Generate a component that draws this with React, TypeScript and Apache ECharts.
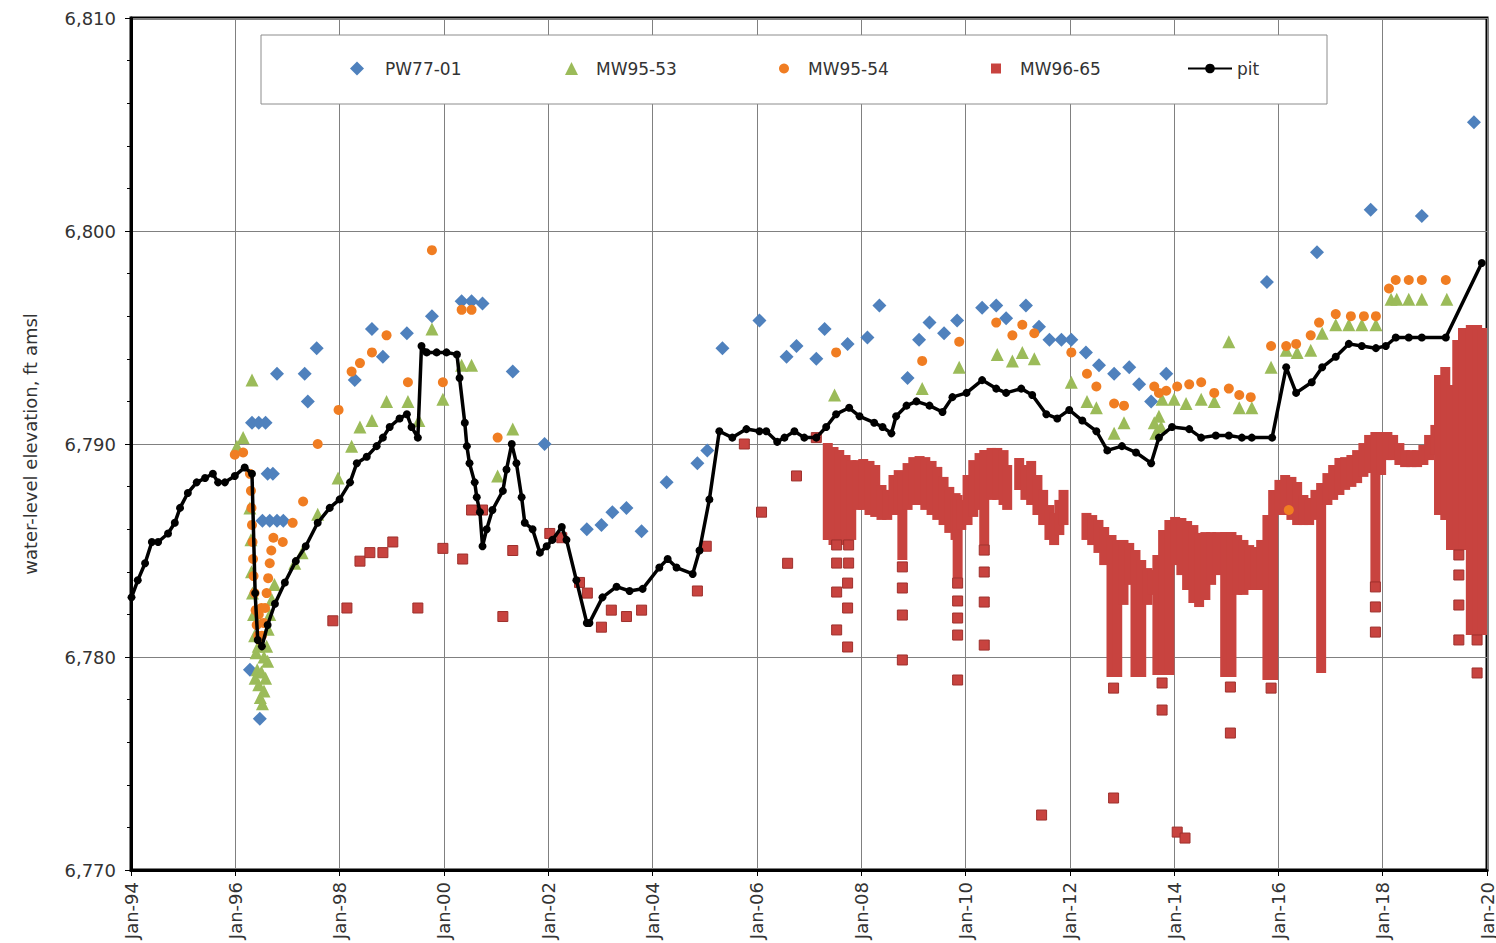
import React, { useEffect, useRef } from 'react';
import * as echarts from 'echarts';

// ---- axis ticks ----
const xTickYears = [1994, 1996, 1998, 2000, 2002, 2004, 2006, 2008, 2010, 2012, 2014, 2016, 2018, 2020];
const xTickLabels = ['Jan-94', 'Jan-96', 'Jan-98', 'Jan-00', 'Jan-02', 'Jan-04', 'Jan-06', 'Jan-08', 'Jan-10', 'Jan-12', 'Jan-14', 'Jan-16', 'Jan-18', 'Jan-20'];
const yTickValues = [6770, 6780, 6790, 6800, 6810];
const yTickLabels = ['6,770', '6,780', '6,790', '6,800', '6,810'];

// ---- series: [decimal year, water-level elevation ft amsl] ----
const pit = [
  [1994.01, 6782.8], [1994.13, 6783.6], [1994.27, 6784.4], [1994.40, 6785.4], [1994.52, 6785.4], [1994.71, 6785.8],
  [1994.84, 6786.3], [1994.94, 6787.0], [1995.09, 6787.7], [1995.26, 6788.2], [1995.42, 6788.4], [1995.57, 6788.6],
  [1995.67, 6788.2], [1995.80, 6788.2], [1995.99, 6788.5], [1996.18, 6788.9], [1996.32, 6788.6], [1996.38, 6783.0],
  [1996.43, 6780.8], [1996.51, 6780.5], [1996.62, 6781.5], [1996.76, 6782.5], [1996.95, 6783.5], [1997.16, 6784.5],
  [1997.35, 6785.2], [1997.58, 6786.3], [1997.81, 6787.0], [1998.00, 6787.4], [1998.20, 6788.2], [1998.33, 6789.1],
  [1998.52, 6789.4], [1998.71, 6789.9], [1998.83, 6790.3], [1998.96, 6790.8], [1999.15, 6791.2], [1999.29, 6791.4],
  [1999.38, 6790.8], [1999.50, 6790.3], [1999.57, 6794.6], [1999.67, 6794.3], [1999.86, 6794.3], [2000.05, 6794.3],
  [2000.25, 6794.2], [2000.30, 6793.1], [2000.40, 6791.0], [2000.44, 6789.9], [2000.49, 6789.1], [2000.59, 6788.2],
  [2000.63, 6787.5], [2000.69, 6786.8], [2000.74, 6785.2], [2000.82, 6786.0], [2000.93, 6786.9], [2001.13, 6787.8],
  [2001.20, 6788.8], [2001.30, 6790.0], [2001.39, 6789.1], [2001.49, 6787.5], [2001.55, 6786.3], [2001.70, 6786.0],
  [2001.84, 6784.9], [2001.97, 6785.2], [2002.08, 6785.5], [2002.26, 6786.1], [2002.35, 6785.5], [2002.54, 6783.6],
  [2002.74, 6781.6], [2002.79, 6781.6], [2003.04, 6782.8], [2003.31, 6783.3], [2003.56, 6783.1], [2003.81, 6783.2],
  [2004.13, 6784.2], [2004.29, 6784.6], [2004.46, 6784.2], [2004.77, 6783.9], [2004.90, 6785.0], [2005.09, 6787.4],
  [2005.28, 6790.6], [2005.53, 6790.3], [2005.80, 6790.7], [2006.05, 6790.6], [2006.18, 6790.6], [2006.39, 6790.1],
  [2006.53, 6790.3], [2006.72, 6790.6], [2006.91, 6790.3], [2007.14, 6790.3], [2007.33, 6790.8], [2007.52, 6791.4],
  [2007.77, 6791.7], [2007.97, 6791.3], [2008.25, 6791.0], [2008.41, 6790.8], [2008.58, 6790.5], [2008.67, 6791.3],
  [2008.87, 6791.8], [2009.06, 6792.0], [2009.31, 6791.8], [2009.56, 6791.5], [2009.75, 6792.2], [2010.02, 6792.4],
  [2010.32, 6793.0], [2010.59, 6792.6], [2010.78, 6792.4], [2011.07, 6792.6], [2011.28, 6792.3], [2011.55, 6791.4],
  [2011.76, 6791.2], [2011.99, 6791.6], [2012.24, 6791.1], [2012.51, 6790.6], [2012.72, 6789.7], [2013.00, 6789.9],
  [2013.27, 6789.6], [2013.56, 6789.1], [2013.71, 6790.3], [2013.96, 6790.8], [2014.29, 6790.7], [2014.52, 6790.3],
  [2014.80, 6790.4], [2015.05, 6790.4], [2015.30, 6790.3], [2015.49, 6790.3], [2015.88, 6790.3], [2016.15, 6793.6],
  [2016.34, 6792.4], [2016.64, 6792.9], [2016.84, 6793.6], [2017.10, 6794.1], [2017.35, 6794.7], [2017.60, 6794.6],
  [2017.87, 6794.5], [2018.06, 6794.6], [2018.25, 6795.0], [2018.50, 6795.0], [2018.75, 6795.0], [2019.21, 6795.0],
  [2019.90, 6798.5],
];

const pw7701 = [
  [1996.28, 6779.4], [1996.47, 6777.1], [1996.32, 6791.0], [1996.45, 6791.0], [1996.58, 6791.0], [1996.62, 6788.6],
  [1996.72, 6788.6], [1996.52, 6786.4], [1996.66, 6786.4], [1996.80, 6786.4], [1996.92, 6786.4], [1996.80, 6793.3],
  [1997.33, 6793.3], [1997.39, 6792.0], [1997.56, 6794.5], [1998.29, 6793.0], [1998.62, 6795.4], [1998.83, 6794.1],
  [1999.29, 6795.2], [1999.77, 6796.0], [2000.34, 6796.7], [2000.53, 6796.7], [2000.74, 6796.6], [2001.32, 6793.4],
  [2001.93, 6790.0], [2002.74, 6786.0], [2003.02, 6786.2], [2003.23, 6786.8], [2003.50, 6787.0], [2003.79, 6785.9],
  [2004.27, 6788.2], [2004.86, 6789.1], [2005.05, 6789.7], [2005.34, 6794.5], [2006.05, 6795.8], [2006.57, 6794.1],
  [2006.76, 6794.6], [2007.14, 6794.0], [2007.30, 6795.4], [2007.74, 6794.7], [2008.12, 6795.0], [2008.35, 6796.5],
  [2008.89, 6793.1], [2009.11, 6794.9], [2009.31, 6795.7], [2009.59, 6795.2], [2009.84, 6795.8], [2010.32, 6796.4],
  [2010.59, 6796.5], [2010.78, 6795.9], [2011.16, 6796.5], [2011.41, 6795.5], [2011.61, 6794.9], [2011.84, 6794.9],
  [2012.03, 6794.9], [2012.31, 6794.3], [2012.56, 6793.7], [2012.85, 6793.3], [2013.14, 6793.6], [2013.33, 6792.8],
  [2013.56, 6792.0], [2013.85, 6793.3], [2015.78, 6797.6], [2016.74, 6799.0], [2017.77, 6801.0], [2018.75, 6800.7],
  [2019.75, 6805.1],
];

const mw9553 = [
  [1996.03, 6789.9], [1996.15, 6790.3], [1996.32, 6793.0],
  [1996.28, 6787.0], [1996.30, 6785.5], [1996.31, 6784.0], [1996.33, 6783.0], [1996.35, 6782.0], [1996.37, 6781.0],
  [1996.38, 6779.0], [1996.40, 6780.2], [1996.42, 6779.4], [1996.44, 6780.5], [1996.45, 6778.7], [1996.48, 6778.1],
  [1996.50, 6779.3], [1996.52, 6777.8], [1996.55, 6778.4], [1996.55, 6780.0], [1996.58, 6779.0], [1996.60, 6780.5],
  [1996.62, 6779.8], [1996.63, 6781.3], [1996.66, 6782.0], [1996.70, 6782.7], [1996.75, 6783.4],
  [1997.14, 6784.4], [1997.28, 6784.9], [1997.58, 6786.7], [1997.97, 6788.4], [1998.23, 6789.9], [1998.39, 6790.8],
  [1998.62, 6791.1], [1998.90, 6792.0], [1999.31, 6792.0], [1999.52, 6791.1], [1999.77, 6795.4], [1999.98, 6792.1],
  [2000.34, 6793.7], [2000.53, 6793.7], [2001.03, 6788.5], [2001.32, 6790.7],
  [2007.49, 6792.3], [2009.17, 6792.6], [2009.88, 6793.6], [2010.61, 6794.2], [2010.90, 6793.9], [2011.09, 6794.3],
  [2011.32, 6794.0], [2012.03, 6792.9], [2012.33, 6792.0], [2012.51, 6791.7], [2012.85, 6790.5], [2013.04, 6791.0],
  [2013.62, 6791.0], [2013.65, 6790.5], [2013.71, 6791.3], [2013.75, 6790.8], [2013.77, 6792.1], [2014.00, 6792.1],
  [2014.23, 6791.9], [2014.52, 6792.1], [2014.77, 6792.0], [2015.05, 6794.8], [2015.25, 6791.7], [2015.49, 6791.7],
  [2015.86, 6793.6], [2016.15, 6794.4], [2016.36, 6794.3], [2016.62, 6794.4], [2016.84, 6795.2], [2017.10, 6795.6],
  [2017.35, 6795.6], [2017.60, 6795.6], [2017.87, 6795.6], [2018.16, 6796.8], [2018.27, 6796.8], [2018.50, 6796.8],
  [2018.75, 6796.8], [2019.23, 6796.8],
];

const mw9554 = [
  [1995.99, 6789.5], [1996.15, 6789.6],
  [1996.28, 6788.6], [1996.30, 6787.8], [1996.31, 6787.0], [1996.32, 6786.2], [1996.33, 6785.4], [1996.34, 6784.6],
  [1996.35, 6783.8], [1996.37, 6783.0], [1996.39, 6782.2], [1996.41, 6781.5], [1996.44, 6781.0], [1996.45, 6782.0],
  [1996.47, 6780.8], [1996.50, 6782.3], [1996.51, 6781.0], [1996.54, 6781.6], [1996.57, 6782.3], [1996.60, 6783.0],
  [1996.63, 6783.7], [1996.66, 6784.4], [1996.69, 6785.0], [1996.73, 6785.6],
  [1996.91, 6785.4], [1997.10, 6786.3], [1997.30, 6787.3], [1997.58, 6790.0], [1997.98, 6791.6], [1998.23, 6793.4],
  [1998.39, 6793.8], [1998.62, 6794.3], [1998.90, 6795.1], [1999.31, 6792.9], [1999.77, 6799.1], [1999.98, 6792.9],
  [2000.34, 6796.3], [2000.53, 6796.3], [2001.03, 6790.3],
  [2007.52, 6794.3], [2009.17, 6793.9], [2009.88, 6794.8], [2010.59, 6795.7], [2010.90, 6795.1], [2011.09, 6795.6],
  [2011.32, 6795.2], [2012.03, 6794.3], [2012.33, 6793.3], [2012.51, 6792.7], [2012.85, 6791.9], [2013.04, 6791.8],
  [2013.62, 6792.7], [2013.71, 6792.4], [2013.85, 6792.5], [2014.06, 6792.7], [2014.29, 6792.8], [2014.52, 6792.9],
  [2014.77, 6792.4], [2015.05, 6792.6], [2015.25, 6792.3], [2015.47, 6792.2], [2015.86, 6794.6], [2016.15, 6794.6],
  [2016.20, 6786.9], [2016.34, 6794.7], [2016.62, 6795.1], [2016.78, 6795.7], [2017.10, 6796.1], [2017.39, 6796.0],
  [2017.64, 6796.0], [2017.87, 6796.0], [2018.12, 6797.3], [2018.25, 6797.7], [2018.50, 6797.7], [2018.75, 6797.7],
  [2019.21, 6797.7],
];

// MW96-65 individual readings
const mw9665Points = [
  [1997.87, 6781.7], [1998.14, 6782.3], [1998.39, 6784.5], [1998.58, 6784.9], [1998.83, 6784.9], [1999.02, 6785.4],
  [1999.50, 6782.3], [1999.98, 6785.1], [2000.36, 6784.6], [2000.53, 6786.9], [2000.74, 6786.9], [2001.13, 6781.9],
  [2001.32, 6785.0], [2002.03, 6785.8], [2002.26, 6785.6], [2002.60, 6783.5], [2002.75, 6783.0], [2003.02, 6781.4],
  [2003.21, 6782.2], [2003.50, 6781.9], [2003.79, 6782.2], [2004.86, 6783.1], [2005.03, 6785.2], [2005.76, 6790.0],
  [2006.09, 6786.8], [2006.59, 6784.4], [2006.76, 6788.5], [2007.14, 6790.3],
  [2007.53, 6785.26], [2007.76, 6785.26], [2007.53, 6784.41], [2007.76, 6784.41], [2007.74, 6783.47], [2007.53, 6783.05],
  [2007.74, 6782.30], [2007.53, 6781.27], [2007.74, 6780.47],
  [2008.79, 6784.23], [2008.79, 6783.24], [2008.79, 6781.97], [2008.79, 6779.86],
  [2009.85, 6783.47], [2009.85, 6782.63], [2009.85, 6781.83], [2009.85, 6781.03], [2009.85, 6778.92],
  [2010.36, 6785.02], [2010.36, 6783.99], [2010.36, 6782.58], [2010.36, 6780.56],
  [2011.46, 6772.58], [2012.84, 6778.54], [2012.84, 6773.38], [2013.77, 6778.78], [2013.77, 6777.51],
  [2014.06, 6771.78], [2014.21, 6771.50], [2015.08, 6778.59], [2015.08, 6776.43], [2015.86, 6778.54],
  [2017.86, 6783.29], [2017.86, 6782.35], [2017.86, 6781.17],
  [2019.46, 6784.79], [2019.46, 6783.85], [2019.46, 6782.44], [2019.46, 6780.80],
  [2019.81, 6780.80], [2019.81, 6779.25],
];

// MW96-65 dense transducer record: [decimal year, lowest reading, highest reading]
const mw9665Band = [
  [2007.36, 6785.73, 6789.81], [2007.47, 6785.49, 6789.62], [2007.58, 6785.49, 6789.48], [2007.70, 6785.73, 6789.25],
  [2007.81, 6785.73, 6789.01], [2007.93, 6787.14, 6789.01], [2008.04, 6787.14, 6789.06], [2008.16, 6786.90, 6788.97],
  [2008.27, 6786.81, 6788.78], [2008.39, 6786.67, 6787.84], [2008.50, 6786.67, 6787.61], [2008.62, 6786.90, 6788.31],
  [2008.72, 6786.90, 6788.54], [2008.79, 6784.79, 6788.40], [2008.89, 6787.14, 6788.87], [2009.00, 6787.37, 6789.15],
  [2009.12, 6787.37, 6789.20], [2009.23, 6787.14, 6789.15], [2009.35, 6786.90, 6788.97], [2009.46, 6786.67, 6788.69],
  [2009.58, 6786.43, 6788.22], [2009.69, 6786.06, 6787.75], [2009.81, 6785.73, 6787.46], [2009.85, 6783.94, 6787.37],
  [2009.92, 6786.20, 6787.14], [2010.04, 6786.43, 6788.31], [2010.15, 6786.81, 6789.01], [2010.27, 6787.14, 6789.34],
  [2010.36, 6785.49, 6789.48], [2010.50, 6787.61, 6789.58], [2010.61, 6787.61, 6789.58], [2010.73, 6787.37, 6789.48],
  [2010.80, 6787.14, 6788.78], [2011.03, 6788.08, 6789.11], [2011.15, 6787.61, 6788.78], [2011.26, 6787.37, 6788.97],
  [2011.38, 6786.90, 6788.31], [2011.49, 6786.43, 6787.61], [2011.61, 6785.73, 6786.90], [2011.70, 6785.49, 6786.53],
  [2011.80, 6785.96, 6787.14], [2011.88, 6786.43, 6787.61], [2012.32, 6785.73, 6786.53], [2012.43, 6785.49, 6786.43],
  [2012.55, 6785.12, 6786.20], [2012.66, 6784.55, 6785.87], [2012.80, 6779.30, 6785.49], [2012.91, 6779.30, 6785.26],
  [2013.03, 6782.68, 6785.26], [2013.14, 6783.62, 6785.12], [2013.26, 6779.30, 6784.79], [2013.37, 6779.30, 6784.32],
  [2013.49, 6782.68, 6783.94], [2013.58, 6783.15, 6783.85], [2013.68, 6779.39, 6784.55], [2013.79, 6779.39, 6785.73],
  [2013.91, 6779.39, 6786.20], [2014.02, 6784.55, 6786.34], [2014.14, 6784.08, 6786.29], [2014.25, 6783.38, 6786.15],
  [2014.37, 6782.77, 6785.96], [2014.48, 6782.58, 6785.59], [2014.60, 6782.91, 6785.63], [2014.71, 6783.62, 6785.63],
  [2014.83, 6784.08, 6785.63], [2014.98, 6779.30, 6785.63], [2015.10, 6779.30, 6785.63], [2015.21, 6783.15, 6785.49],
  [2015.33, 6783.15, 6785.26], [2015.44, 6783.38, 6785.02], [2015.56, 6783.38, 6784.93], [2015.67, 6783.38, 6785.26],
  [2015.79, 6779.15, 6786.43], [2015.90, 6779.15, 6787.61], [2016.02, 6786.90, 6788.08], [2016.13, 6786.90, 6788.31],
  [2016.25, 6786.67, 6788.22], [2016.36, 6786.43, 6787.98], [2016.48, 6786.43, 6787.37], [2016.59, 6786.43, 6787.23],
  [2016.71, 6786.67, 6787.61], [2016.82, 6779.48, 6787.93], [2016.94, 6787.37, 6788.40], [2017.05, 6787.61, 6788.78],
  [2017.17, 6787.84, 6789.11], [2017.28, 6788.08, 6789.15], [2017.40, 6788.22, 6789.25], [2017.51, 6788.40, 6789.48],
  [2017.63, 6788.69, 6789.81], [2017.74, 6788.87, 6790.19], [2017.86, 6783.76, 6790.33], [2017.97, 6788.78, 6790.33],
  [2018.09, 6789.48, 6790.33], [2018.20, 6789.48, 6790.19], [2018.32, 6789.25, 6789.81], [2018.43, 6789.15, 6789.48],
  [2018.55, 6789.15, 6789.48], [2018.66, 6789.15, 6789.48], [2018.78, 6789.25, 6789.72], [2018.89, 6789.48, 6790.19],
  [2019.01, 6789.72, 6790.66], [2019.08, 6786.90, 6793.00], [2019.20, 6786.67, 6793.38], [2019.31, 6785.26, 6792.54],
  [2019.43, 6785.26, 6794.65], [2019.54, 6785.26, 6795.21], [2019.69, 6781.27, 6795.35], [2019.81, 6781.27, 6795.35],
  [2019.92, 6781.27, 6795.21],
];

const BLUE = '#4f81bd';
const GREEN = '#9bbb59';
const ORANGE = '#f07d22';
const RED = '#c8433f';
const FONT = 'DejaVu Sans';

export default function App() {
  const ref = useRef<HTMLDivElement>(null);

  useEffect(() => {
    if (!ref.current) return;
    const chart = echarts.init(ref.current, null, { renderer: 'svg' });

    // icon box (w x h) placed at `left`; text pushed right by `pad`
    const legendItems = [
      { name: 'PW77-01', left: 350, w: 14, h: 14, pad: 16 },
      { name: 'MW95-53', left: 565, w: 13, h: 13, pad: 13 },
      { name: 'MW95-54', left: 779, w: 10, h: 10, pad: 14 },
      { name: 'MW96-65', left: 991, w: 10, h: 10, pad: 14, icon: 'rect' },
      { name: 'pit', left: 1187, w: 44, h: 12, pad: 0 },
    ];

    chart.setOption({
      animation: false,
      backgroundColor: '#ffffff',
      textStyle: { fontFamily: FONT },
      grid: {
        left: 131, right: 8, top: 18, bottom: 73,
        show: true, borderColor: '#000', borderWidth: 3, backgroundColor: 'transparent',
      },
      graphic: [
        {
          type: 'rect', z: 3, silent: true,
          shape: { x: 261, y: 35, width: 1066, height: 69 },
          style: { fill: '#ffffff', stroke: '#8c8c8c', lineWidth: 1 },
        },
      ],
      legend: legendItems.map((it) => ({
        left: it.left, top: 70 - 10, padding: 0, z: 5,
        itemWidth: it.w, itemHeight: it.h,
        data: [it.icon ? { name: it.name, icon: it.icon } : { name: it.name }],
        textStyle: { fontFamily: FONT, fontSize: 17, color: '#333', padding: [0, 0, 0, it.pad] },
        selectedMode: false,
      })),
      xAxis: {
        type: 'value', min: 1994, max: 2020, interval: 2,
        axisLine: { show: true, lineStyle: { color: '#000', width: 3 } },
        axisTick: { show: true, length: 6, lineStyle: { color: '#000', width: 1 } },
        axisLabel: {
          rotate: 90, margin: 12, fontFamily: FONT, fontSize: 18, color: '#333',
          formatter: (v: number) => {
            const i = xTickYears.indexOf(Math.round(v));
            return i >= 0 ? xTickLabels[i] : '';
          },
        },
        splitLine: { show: true, lineStyle: { color: '#808080', width: 1 } },
      },
      yAxis: {
        type: 'value', min: 6770, max: 6810, interval: 10,
        name: 'water-level elevation, ft amsl', nameLocation: 'middle', nameGap: 92, nameRotate: 90,
        nameTextStyle: { fontFamily: FONT, fontSize: 18, color: '#333' },
        axisLine: { show: true, lineStyle: { color: '#000', width: 3 } },
        axisTick: { show: true, length: 6, lineStyle: { color: '#000', width: 1 } },
        minorTick: { show: true, splitNumber: 5, length: 4, lineStyle: { color: '#000', width: 1 } },
        axisLabel: {
          margin: 15, fontFamily: FONT, fontSize: 18, color: '#333',
          formatter: (v: number) => {
            const i = yTickValues.indexOf(Math.round(v));
            return i >= 0 ? yTickLabels[i] : '';
          },
        },
        splitLine: { show: true, lineStyle: { color: '#808080', width: 1 } },
      },
      series: [
        {
          name: 'pit', type: 'line', data: pit, symbol: 'circle', symbolSize: 8, showAllSymbol: true,
          lineStyle: { color: '#000', width: 3.5 }, itemStyle: { color: '#000' },
        },
        {
          name: 'PW77-01', type: 'scatter', data: pw7701, symbol: 'diamond', symbolSize: 14,
          itemStyle: { color: BLUE, opacity: 1 },
        },
        {
          name: 'MW95-53', type: 'scatter', data: mw9553, symbol: 'triangle', symbolSize: 13,
          itemStyle: { color: GREEN, opacity: 1 },
        },
        {
          name: 'MW95-54', type: 'scatter', data: mw9554, symbol: 'circle', symbolSize: 10,
          itemStyle: { color: ORANGE, opacity: 1 },
        },
        {
          name: 'MW96-65', type: 'custom', data: mw9665Band, clip: true,
          encode: { x: 0, y: [1, 2] },
          itemStyle: { color: RED },
          renderItem: (params: any, api: any) => {
            const lo = api.coord([api.value(0), api.value(1)]);
            const hi = api.coord([api.value(0), api.value(2)]);
            const s = 5;
            return {
              type: 'rect',
              shape: { x: lo[0] - s, y: hi[1] - s, width: 2 * s, height: lo[1] - hi[1] + 2 * s },
              style: { fill: RED },
            };
          },
        },
        {
          name: 'MW96-65', type: 'scatter', data: mw9665Points, symbol: 'rect', symbolSize: 10,
          itemStyle: { color: RED, borderColor: '#9e302c', borderWidth: 1, opacity: 1 },
        },
      ],
    });

    return () => chart.dispose();
  }, []);

  return (
    <div
      ref={ref}
      style={{ position: 'fixed', left: 0, top: 0, width: '1496px', height: '943px', background: '#fff' }}
    />
  );
}
